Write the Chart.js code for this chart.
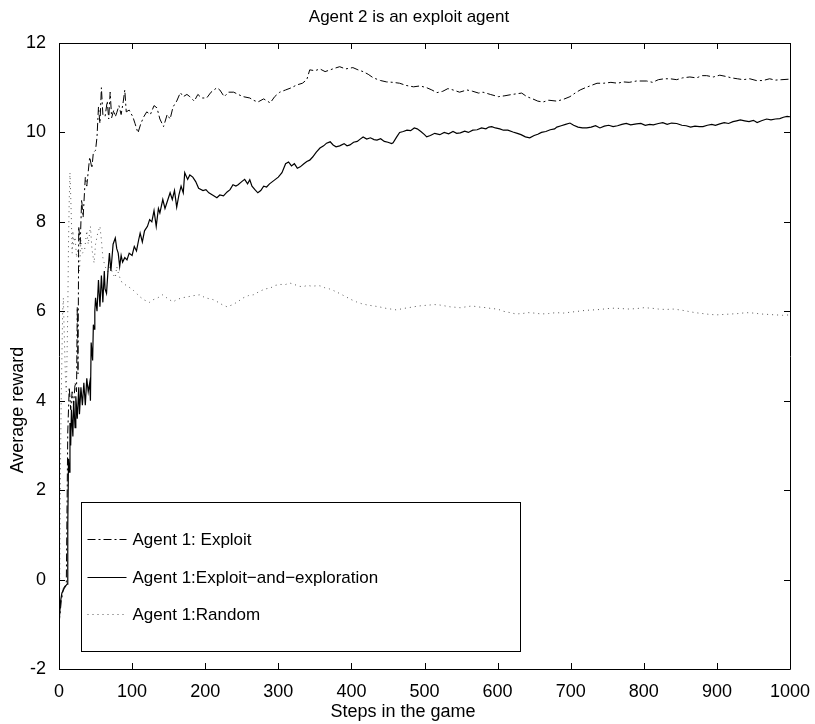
<!DOCTYPE html>
<html>
<head>
<meta charset="utf-8">
<script src="https://cdn.jsdelivr.net/npm/chart.js@4.4.1/dist/chart.umd.min.js"></script>
<style>
html,body{margin:0;padding:0;background:#fff;}
#wrap{width:815px;height:724px;}
</style>
</head>
<body>
<div id="wrap"><canvas id="c" width="815" height="724"></canvas></div>
<script>
const chartTitle = "Agent 2 is an exploit agent";
const xTitle = "Steps in the game";
const yTitle = "Average reward";
const seriesNames = ["Agent 1: Exploit", "Agent 1:Exploit\u2212and\u2212exploration", "Agent 1:Random"];

const exploitSteps = [0,3,6,10,12,14,16,18,20,22,24,25,26,27,29,31,33,36,38,42,45,47,50,52,54,56,58,60,63,66,68,70,72,75,77,79,82,85,88,90,92,96,101,104,108,112,116,120,125,130,134,138,143,148,152,156,161,166,170,175,179,185,190,195,202,208,216,220,226,232,239,245,252,261,266,272,280,289,295,302,310,318,325,333,339,343,350,357,364,371,378,384,392,402,409,416,423,430,440,448,457,466,475,485,494,503,510,517,525,532,539,548,558,566,574,580,590,601,610,620,633,640,648,655,662,670,681,690,699,706,713,720,728,736,745,755,764,772,780,790,804,812,820,828,836,845,853,863,872,880,886,895,904,913,920,928,936,945,954,963,972,980,989,998];
const exploitValues = [-1.0,-0.5,-0.2,-0.1,3.3,4.3,3.8,4.2,3.9,4.4,4.2,6.1,4.6,7.9,7.5,8.5,8.1,9.0,8.8,9.45,9.2,9.55,9.6,9.9,10.57,10.2,11.0,10.4,10.35,10.7,10.3,10.9,10.33,10.5,10.35,10.44,10.6,10.4,10.7,10.95,10.46,10.5,10.35,10.2,9.99,10.2,10.35,10.46,10.4,10.6,10.55,10.3,10.13,10.4,10.3,10.57,10.7,10.89,10.8,10.85,10.8,10.7,10.85,10.77,10.77,10.9,11.0,10.95,10.8,10.9,10.9,10.85,10.8,10.77,10.72,10.68,10.75,10.66,10.8,10.9,10.95,11.0,11.06,11.1,11.18,11.4,11.38,11.42,11.36,11.4,11.44,11.47,11.42,11.45,11.4,11.36,11.3,11.22,11.16,11.13,11.12,11.1,11.05,11.02,11.04,11.0,10.95,10.89,10.92,10.98,10.95,10.9,10.95,10.92,10.88,10.9,10.85,10.8,10.82,10.85,10.88,10.8,10.75,10.7,10.68,10.72,10.7,10.74,10.8,10.88,10.95,11.0,11.05,11.1,11.1,11.12,11.1,11.13,11.12,11.15,11.15,11.12,11.18,11.2,11.2,11.18,11.22,11.24,11.22,11.27,11.27,11.24,11.28,11.25,11.22,11.2,11.18,11.2,11.16,11.16,11.2,11.17,11.18,11.19];

const mixedSteps = [0,2,4,7,11,12,13,14,15,16,17,19,20,22,23,25,27,28,30,32,34,36,38,40,42,43,44,46,47,48,49,50,52,54,56,58,60,62,63,65,67,69,71,74,77,79,81,83,85,87,90,93,96,100,103,106,109,111,114,117,121,124,127,130,133,136,138,142,145,148,152,155,158,161,164,167,170,172,176,179,183,187,191,197,201,205,210,216,220,225,230,234,238,242,245,250,254,258,261,264,268,272,276,280,284,288,292,296,300,305,310,314,318,322,326,330,335,339,343,347,352,357,362,366,371,375,379,384,390,394,398,403,408,412,416,421,426,431,435,440,445,450,455,457,462,466,471,476,481,486,490,495,500,503,508,514,521,527,533,539,544,549,555,560,566,572,578,584,588,592,597,603,608,614,621,627,632,638,644,650,655,660,666,672,678,681,687,693,699,704,710,716,722,728,734,740,746,752,758,764,770,776,782,790,796,802,808,813,820,826,832,838,845,852,858,864,870,876,881,887,893,898,904,910,916,922,927,932,938,944,950,955,961,968,974,980,986,991,996,1000];
const mixedValues = [-1.0,-0.5,-0.3,-0.2,-0.1,1.2,2.7,2.4,3.5,3.0,3.8,3.2,4.0,3.4,4.1,3.6,4.3,3.7,4.3,3.9,4.4,3.9,4.5,4.2,4.4,4.0,5.3,4.9,5.7,5.6,6.0,6.3,6.0,6.7,6.1,6.8,6.2,6.9,6.5,6.4,6.9,7.3,6.9,7.5,7.64,7.4,7.3,7.0,7.25,7.1,7.2,7.15,7.3,7.25,7.45,7.35,7.6,7.75,7.55,7.8,7.9,8.05,8.0,8.25,7.9,8.3,8.2,8.5,8.3,8.45,8.65,8.5,8.7,8.33,8.6,8.8,8.65,9.1,8.95,9.05,9.0,8.9,8.75,8.7,8.72,8.65,8.6,8.54,8.6,8.58,8.67,8.72,8.83,8.8,8.83,8.9,8.95,8.85,8.94,8.8,8.72,8.65,8.7,8.8,8.78,8.85,8.9,8.95,9.0,9.1,9.3,9.34,9.25,9.3,9.2,9.23,9.3,9.35,9.38,9.45,9.56,9.65,9.7,9.76,9.79,9.72,9.68,9.7,9.75,9.7,9.72,9.78,9.8,9.85,9.9,9.85,9.88,9.84,9.83,9.86,9.8,9.78,9.75,9.77,9.9,10.0,10.02,10.05,10.04,10.1,10.08,10.02,9.95,9.9,9.93,9.98,9.95,10.0,9.97,10.02,9.98,9.99,10.03,10.0,10.05,10.06,10.1,10.08,10.12,10.13,10.1,10.08,10.05,10.05,10.01,9.98,9.95,9.9,9.88,9.93,9.96,10.0,10.02,10.06,10.08,10.12,10.15,10.18,10.21,10.16,10.12,10.1,10.1,10.12,10.15,10.1,10.14,10.16,10.13,10.15,10.18,10.2,10.17,10.19,10.2,10.16,10.18,10.17,10.2,10.22,10.18,10.21,10.2,10.16,10.15,10.12,10.14,10.13,10.13,10.16,10.18,10.16,10.19,10.22,10.2,10.24,10.26,10.28,10.26,10.24,10.27,10.22,10.26,10.3,10.28,10.3,10.31,10.34,10.36,10.35];

const randomSteps = [0,1,2,3,4,5,6,7,8,9,10,11,12,13,14,15,16,17,18,19,20,22,24,26,28,30,32,35,38,40,43,45,48,50,53,56,58,60,63,67,70,73,77,79,82,86,90,95,101,106,111,117,124,129,135,142,149,156,161,168,175,184,193,200,206,211,218,224,230,238,245,252,259,266,275,282,289,296,303,310,316,322,328,334,340,346,352,357,363,370,376,380,386,393,400,407,414,422,430,438,446,454,462,470,478,485,493,500,507,514,521,528,535,542,549,557,565,572,578,585,592,600,608,617,625,634,642,650,660,670,680,690,700,710,720,730,740,750,760,770,780,790,800,810,820,830,840,850,860,870,880,890,900,910,920,930,940,950,960,970,980,990,1000];
const randomValues = [-1.0,0,2.5,4.0,5.0,6.0,6.3,5.6,5.0,4.4,4.2,5.0,6.0,7.5,8.5,9.1,8.6,8.0,7.3,7.8,7.5,7.66,7.2,7.4,6.9,7.6,7.3,7.37,7.8,7.5,7.9,7.4,7.08,7.5,7.75,7.9,7.6,7.2,7.0,6.88,7.05,6.85,6.75,7.0,6.8,6.65,6.6,6.55,6.48,6.4,6.32,6.25,6.2,6.26,6.3,6.37,6.28,6.21,6.26,6.3,6.32,6.35,6.37,6.3,6.28,6.26,6.2,6.14,6.1,6.15,6.22,6.3,6.35,6.37,6.45,6.5,6.52,6.58,6.6,6.6,6.63,6.6,6.56,6.55,6.58,6.56,6.57,6.57,6.53,6.5,6.46,6.43,6.38,6.32,6.26,6.21,6.17,6.14,6.12,6.1,6.07,6.05,6.03,6.06,6.08,6.1,6.12,6.13,6.14,6.15,6.14,6.12,6.1,6.09,6.08,6.1,6.12,6.1,6.09,6.08,6.06,6.05,6.0,5.97,5.94,5.95,5.97,5.96,5.94,5.95,5.97,5.96,5.98,6.0,6.02,6.03,6.04,6.06,6.07,6.06,6.05,6.06,6.08,6.07,6.05,6.04,6.05,6.03,6.0,5.97,5.95,5.93,5.92,5.93,5.94,5.95,5.97,5.96,5.94,5.93,5.92,5.91,5.92];

const xTicks = [0,100,200,300,400,500,600,700,800,900,1000];
const yTicks = [-2,0,2,4,6,8,10,12];

function pts(xs, ys){ return xs.map((x,i)=>({x:x, y:ys[i]})); }

const FONT = "'Liberation Sans', Arial, Helvetica, sans-serif";
const FS = 17;
const FT = 18;

const frameAndTicks = {
  id: 'frameAndTicks',
  afterDraw(chart){
    const {ctx, chartArea:a, scales} = chart;
    ctx.save();
    ctx.strokeStyle = '#000';
    ctx.lineWidth = 1;
    ctx.beginPath();
    ctx.rect(Math.round(a.left)+0.5, Math.round(a.top)+0.5, Math.round(a.right-a.left), Math.round(a.bottom-a.top));
    ctx.stroke();
    const L = 6;
    ctx.beginPath();
    xTicks.forEach(v=>{
      const px = Math.round(scales.x.getPixelForValue(v))+0.5;
      ctx.moveTo(px, a.bottom); ctx.lineTo(px, a.bottom-L);
      ctx.moveTo(px, a.top); ctx.lineTo(px, a.top+L);
    });
    yTicks.forEach(v=>{
      const py = Math.round(scales.y.getPixelForValue(v))+0.5;
      ctx.moveTo(a.left, py); ctx.lineTo(a.left+L, py);
      ctx.moveTo(a.right, py); ctx.lineTo(a.right-L, py);
    });
    ctx.stroke();

    // titles
    ctx.fillStyle = '#000';
    ctx.textAlign = 'center';
    ctx.textBaseline = 'middle';
    ctx.font = FS + 'px ' + FONT;
    ctx.fillText(chartTitle, 409, 17);
    ctx.font = FT + 'px ' + FONT;
    ctx.fillText(xTitle, 403, 712);
    ctx.save();
    ctx.translate(18, 410);
    ctx.rotate(-Math.PI/2);
    ctx.fillText(yTitle, 0, 0);
    ctx.restore();

    // legend box
    const bx = Math.round(a.left)+22.5, by = 502.5, bw = 439, bh = 149;
    ctx.fillStyle = '#fff';
    ctx.fillRect(bx, by, bw, bh);
    ctx.strokeStyle = '#000';
    ctx.lineWidth = 1;
    ctx.strokeRect(bx, by, bw, bh);
    const rows = [539, 577, 614];
    ctx.font = FS + 'px ' + FONT;
    ctx.textBaseline = 'middle';
    ctx.textAlign = 'left';
    chart.data.datasets.forEach((ds, i)=>{
      const y = rows[i] + 0.5;
      ctx.save();
      ctx.strokeStyle = ds.borderColor;
      ctx.lineWidth = ds.borderWidth;
      ctx.setLineDash(ds.borderDash || []);
      ctx.beginPath();
      ctx.moveTo(bx+6, y); ctx.lineTo(bx+45, y);
      ctx.stroke();
      ctx.restore();
      ctx.fillStyle = '#000';
      ctx.fillText(ds.label, bx+51, rows[i]+1);
    });
    ctx.restore();
  }
};

new Chart(document.getElementById('c'), {
  type: 'line',
  data: {
    datasets: [
      { label: seriesNames[0], data: pts(exploitSteps, exploitValues), borderColor: '#000', borderWidth: 1, borderDash: [8,3,2,3], pointRadius: 0, tension: 0, fill: false },
      { label: seriesNames[1], data: pts(mixedSteps, mixedValues), borderColor: '#000', borderWidth: 1.2, borderDash: [], pointRadius: 0, tension: 0, fill: false },
      { label: seriesNames[2], data: pts(randomSteps, randomValues), borderColor: '#555', borderWidth: 1, borderDash: [1,4], pointRadius: 0, tension: 0, fill: false }
    ]
  },
  options: {
    responsive: false,
    animation: false,
    devicePixelRatio: 1,
    layout: { padding: { left: 0, right: 25, top: 43, bottom: 0 } },
    plugins: {
      legend: { display: false },
      tooltip: { enabled: false },
      title: { display: false }
    },
    scales: {
      x: {
        type: 'linear', min: 0, max: 1000,
        grid: { display: false },
        border: { display: false },
        ticks: { stepSize: 100, color: '#000', font: { family: FONT, size: FT }, padding: 4, maxRotation: 0, autoSkip: false,
                 callback: (v)=>String(v) },
        title: { display: false },
        afterFit(s){ s.height = 55; }
      },
      y: {
        type: 'linear', min: -2, max: 12,
        grid: { display: false },
        border: { display: false },
        ticks: { stepSize: 2, color: '#000', font: { family: FONT, size: FT }, padding: 5, callback: (v)=>String(v) },
        title: { display: false },
        afterFit(s){ s.width = 59; }
      }
    }
  },
  plugins: [frameAndTicks]
});
</script>
</body>
</html>
